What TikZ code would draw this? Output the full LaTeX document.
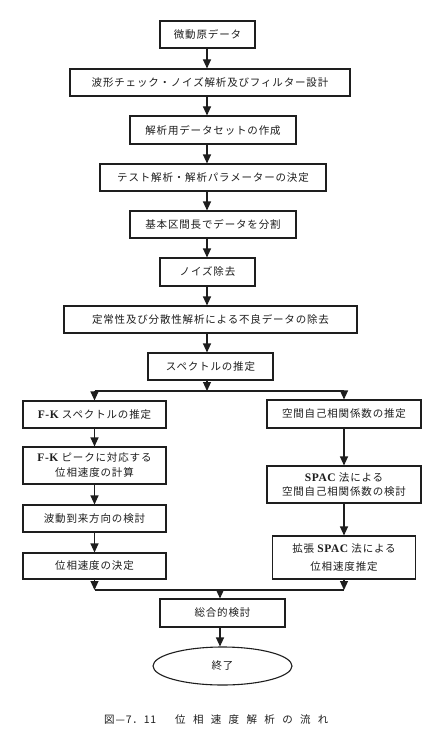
\documentclass[tikz,border=0pt]{standalone}
\usepackage{fontspec}
\usetikzlibrary{arrows.meta,shapes.geometric}
\newfontfamily\jp[LetterSpace=8]{Noto Sans CJK JP}
\newfontfamily\jpcap[LetterSpace=70]{Noto Sans CJK JP}
\newfontfamily\lat[LetterSpace=5]{Liberation Serif}
\definecolor{ink}{RGB}{30,30,30}
\newcommand{\lt}[1]{{\lat\bfseries\fontsize{11.5}{13}\selectfont #1}}
\begin{document}
\begin{tikzpicture}[x=1pt,y=-1pt,
  box/.style={draw=ink,line width=1.1pt,inner sep=0pt,
    font=\jp\fontsize{10.5}{15}\selectfont,text=ink,align=center},
  arr/.style={draw=ink,line width=1.1pt,-{Triangle[length=9pt,width=8pt]}},
  ln/.style={draw=ink,line width=1.1pt}]
\useasboundingbox[fill=white] (0,0) rectangle (443,741);
% main column
\node[box,minimum width=95pt,minimum height=27pt]  (b1) at (207.5,34.5) {微動原データ};
\node[box,minimum width=280pt,minimum height=27pt] (b2) at (210,82.5) {波形チェック・ノイズ解析及びフィルター設計};
\node[box,minimum width=166pt,minimum height=28pt] (b3) at (213,130) {解析用データセットの作成};
\node[box,minimum width=226pt,minimum height=27pt] (b4) at (213,177.5) {テスト解析・解析パラメーターの決定};
\node[box,minimum width=166pt,minimum height=27pt] (b5) at (213,224.5) {基本区間長でデータを分割};
\node[box,minimum width=95pt,minimum height=28pt]  (b6) at (207.5,272) {ノイズ除去};
\node[box,minimum width=293pt,minimum height=27pt] (b7) at (210.5,319.5) {定常性及び分散性解析による不良データの除去};
\node[box,minimum width=125pt,minimum height=27pt] (b8) at (210.5,366.5) {スペクトルの推定};
% left column
\node[box,minimum width=143pt,minimum height=27pt] (l1) at (94.5,414.5) {\lt{F-K} スペクトルの推定};
\node[box,minimum width=143pt,minimum height=37pt] (l2) at (94.5,465.5) {\lt{F-K} ピークに対応する\\位相速度の計算};
\node[box,minimum width=143pt,minimum height=27pt] (l3) at (94.5,518.5) {波動到来方向の検討};
\node[box,minimum width=143pt,minimum height=26pt] (l4) at (94.5,566) {位相速度の決定};
% right column
\node[box,minimum width=154pt,minimum height=28pt] (r1) at (344,414) {空間自己相関係数の推定};
\node[box,minimum width=154pt,minimum height=37pt,font=\jp\fontsize{10.5}{13.5}\selectfont] (r2) at (344,484.5) {\lt{SPAC} 法による\\空間自己相関係数の検討};
\node[box,minimum width=143pt,minimum height=43pt,font=\jp\fontsize{10.5}{18}\selectfont] (r3) at (344,557.5) {拡張 \lt{SPAC} 法による\\位相速度推定};
% bottom
\node[box,minimum width=125pt,minimum height=28pt] (b13) at (222.5,613) {総合的検討};
\node[box,ellipse,minimum width=139pt,minimum height=38pt] (end) at (222.5,666) {終了};
% caption
\node[anchor=west,inner sep=0pt,text=ink,font=\jp\fontsize{10.5}{12}\selectfont] (cap1) at (104,720) {図—7．11};
\node[anchor=west,inner sep=0pt,text=ink,font=\jpcap\fontsize{10.5}{12}\selectfont] (cap2) at (175,720) {位相速度解析の流れ};
% connectors main column
\coordinate (cx) at (207,0);
\draw[arr] (cx |- b1.south) -- (cx |- b2.north);
\draw[arr] (cx |- b2.south) -- (cx |- b3.north);
\draw[arr] (cx |- b3.south) -- (cx |- b4.north);
\draw[arr] (cx |- b4.south) -- (cx |- b5.north);
\draw[arr] (cx |- b5.south) -- (cx |- b6.north);
\draw[arr] (cx |- b6.south) -- (cx |- b7.north);
\draw[arr] (cx |- b7.south) -- (cx |- b8.north);
% branch
\coordinate (j1) at (207,391);
\draw[arr] (cx |- b8.south) -- (j1);
\draw[ln] (l1.north |- j1) -- (r1.north |- j1);
\draw[arr] (l1.north |- j1) -- (l1.north);
\draw[arr] (r1.north |- j1) -- (r1.north);
% columns
\draw[arr] (l1.south) -- (l2.north);
\draw[arr] (l2.south) -- (l3.north);
\draw[arr] (l3.south) -- (l4.north);
\draw[arr] (r1.south) -- (r2.north);
\draw[arr] (r2.south) -- (r3.north);
% merge
\coordinate (j2) at (220,590);
\draw[arr] (l4.south) -- (l4.south |- j2);
\draw[arr] (r3.south) -- (r3.south |- j2);
\draw[ln] (l4.south |- j2) -- (r3.south |- j2);
\draw[arr] (j2) -- (j2 |- b13.north);
\draw[arr] (j2 |- b13.south) -- (j2 |- end.north);
\end{tikzpicture}
\end{document}
